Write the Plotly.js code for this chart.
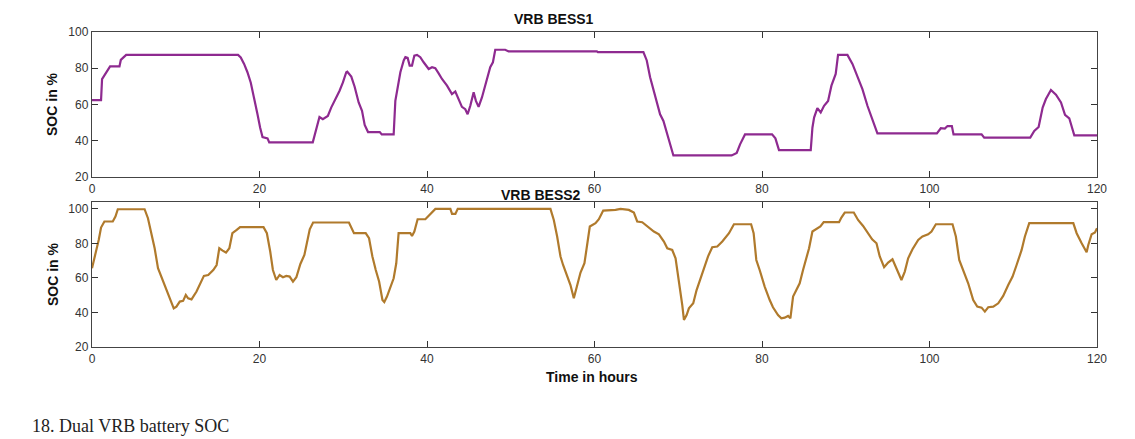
<!DOCTYPE html>
<html>
<head>
<meta charset="utf-8">
<script src="https://cdn.plot.ly/plotly-3.0.1.min.js"></script>
<style>html,body{margin:0;padding:0;background:#fff;}#chart{width:1135px;height:439px;}</style>
</head>
<body>
<div id="chart"></div>
<script>
// Time in hours and SOC (%)
const timeBess1 = [0,1.08,1.2,1.68,2.16,3.28,3.44,3.76,4.08,17.44,17.76,18.16,18.56,18.96,19.36,19.76,20.08,20.36,20.96,21.16,26.36,26.76,27.16,27.56,28.16,28.56,28.96,29.56,29.96,30.36,30.48,30.96,31.36,31.84,32.24,32.56,32.96,34.36,34.6,36.02,36.22,36.5,36.82,37.22,37.42,37.69,37.93,38.21,38.49,38.81,39.2,39.6,40.2,40.6,40.99,41.39,41.79,42.39,42.98,43.38,43.66,44.17,44.57,44.85,45.17,45.57,45.84,46.16,46.56,47.08,47.55,47.87,48.15,49.34,49.74,60.28,60.4,65.84,66.24,66.64,67.04,67.44,67.83,68.23,68.63,69.03,69.42,76.38,76.98,77.38,77.97,81.2,81.6,82.03,85.82,86.02,86.22,86.61,87.01,87.41,87.89,88.29,88.8,89.08,90.2,90.8,91.39,91.99,92.59,93.19,93.78,100.88,101.35,101.83,102.15,102.67,102.87,106.22,106.53,112.03,112.51,113.03,113.51,113.9,114.5,115.1,115.7,116.18,116.69,117.29,120];
const socBess1 = [62.4,62.4,74,77.8,81,81,84.6,86,87.4,87.4,86,82.4,77.8,72,64,54.6,47.2,42,41.3,39.1,39.1,45.4,53.1,51.9,53.7,58.3,62,67.6,72.2,77.8,78.1,75.4,69.8,61.1,56.5,48.7,44.8,44.8,43.5,43.5,62,69.4,77.8,84.3,86.1,85.7,81.5,81.5,87,87.4,86.1,83.3,79.6,80.6,80,77.2,74.1,70.4,65.7,67.2,63.9,58.7,57.4,54.6,59.3,66.7,62,58.7,63.9,72.2,80.6,83.3,90.2,90.2,89.3,89.3,88.9,88.9,84.3,75,67.6,60.2,54.6,50.9,44.4,38,31.9,31.9,33.3,38,43.5,43.5,41.3,34.8,34.8,47.2,52.8,58,55.6,59.3,62,70.4,76.9,87.4,87.4,82.4,75.9,68.5,59.3,51.9,44.1,44.1,46.9,46.7,48.1,48.1,43.5,43.5,41.7,41.7,45.4,47.6,58.3,63,68,65.4,61.1,54.3,52.4,43,43];

const timeBess2 = [0,0.2,0.48,0.8,1.08,1.48,2.48,2.8,3.08,6.28,6.68,7.08,7.48,7.88,8.4,8.88,9.36,9.76,10.08,10.48,10.88,11.2,11.48,11.88,12.48,13.08,13.36,13.88,14.48,14.88,15.2,15.6,16,16.4,16.76,17.28,17.68,20.48,20.88,21.28,21.6,22,22.4,22.8,23.2,23.6,24,24.4,24.88,25.36,25.68,26,26.4,30.68,31.28,32.68,33.08,33.48,33.88,34.28,34.68,34.9,35.22,35.62,36.02,36.33,36.61,38.01,38.21,38.49,38.88,39.8,40.2,40.6,41,42.79,42.99,43.39,43.67,54.74,55.14,55.54,55.94,56.25,56.73,57.13,57.53,57.93,58.33,58.8,59.12,59.44,60.12,60.52,61.04,62.51,63.11,64.1,64.7,65.1,65.7,66.29,66.69,67.09,67.69,68.29,68.69,69.28,69.68,70.08,70.48,70.68,71,71.27,71.79,72.19,72.67,73.15,73.55,74.06,74.66,75.26,76.06,76.65,78.7,79,79.32,79.72,80.32,80.92,81.31,81.91,82.31,82.71,83.11,83.39,83.71,84.1,84.5,84.9,85.3,85.62,86.02,86.49,86.97,87.37,89.2,89.48,89.88,90.96,91.47,92.07,92.67,93.15,93.67,94.06,94.58,95.06,95.58,96.06,96.65,97.05,97.45,97.97,98.65,99.16,99.84,100.24,100.76,102.75,103.15,103.55,104.02,104.62,105.22,105.7,106.22,106.61,107.01,107.61,108.21,108.8,109.4,109.92,110.4,111,111.39,111.91,117.17,117.57,118.17,118.76,118.96,119.36,119.76,120];
const socBess2 = [65.6,69.5,74.3,82,89.2,92.7,92.7,95.6,99.8,99.8,94.6,85.9,77.2,65.6,59.2,53,47.2,42.4,43.4,46.3,46.7,50.1,48.2,47.6,52.1,58.5,61.2,61.7,64.6,67.5,77.2,75.8,74.7,77.2,85.9,87.8,89.4,89.4,85.9,75.3,64.6,58.8,61.7,60.4,61.2,60.8,57.9,60.4,68.1,73.3,80.1,88.2,92.1,92.1,85.9,85.9,83,72.4,64.6,57.9,47.2,46,49.2,55,59.8,68.5,85.9,85.9,84.3,86.9,94,94,95.9,97.5,100,100,97.1,97.1,100,100,93.6,84,72.4,67.5,61.7,55.9,48.2,55.9,63.1,68.5,80.1,89.8,91.7,94,99,99.4,100,99.4,97.9,92.7,92.3,90.1,88.8,86.9,85.3,81.1,77.2,76.2,71.4,58.8,44.3,35.7,38.5,42.4,45.3,53,59.8,66.6,72.4,77.8,78.2,81.1,85.9,91.1,91.1,85.9,70.4,64.6,55,47.2,43,38.5,36.6,37,38,36.6,49.2,53,56.9,64.6,71.4,77.2,86.9,88.2,89.8,92.3,92.3,95,97.9,97.9,93.6,90.1,85.9,82.4,80.1,72.4,66.2,68.9,70.8,65.6,58.8,63.7,71.4,76.6,82,84,85.3,86.9,91.1,91.1,84,70.4,64.6,56.9,47.2,43.4,42.8,40.5,43,43.4,45.3,49.6,55.9,60.8,67.5,76.2,84,91.7,91.7,85.9,80.1,74.9,79.1,85.3,86.3,88.8];

const xTicks = [0,20,40,60,80,100,120];
const yTicks = [20,40,60,80,100];
const titles = ["VRB BESS1","VRB BESS2"];
const yTitle = "SOC in %";
const xTitle = "Time in hours";
const caption = "18. Dual VRB battery SOC";

const tickFont = {family:"Liberation Sans, Arial, sans-serif", size:12, color:"#333"};
const boldFont = {family:"Liberation Sans, Arial, sans-serif", size:14, color:"#111", weight:"bold"};

function xa(anchor){
  return {domain:[0,1], range:[0,120], anchor:anchor, tickvals:xTicks, ticks:"inside", ticklen:6,
    tickcolor:"#333", mirror:"ticks", showline:true, linecolor:"#444", linewidth:1.2,
    showgrid:false, zeroline:false, tickfont:tickFont};
}
function ya(anchor, dom, rng){
  return {domain:dom, range:rng, anchor:anchor, tickvals:yTicks, ticks:"inside", ticklen:6,
    tickcolor:"#333", mirror:"ticks", showline:true, linecolor:"#444", linewidth:1.2,
    showgrid:false, zeroline:false, tickfont:tickFont};
}

const traces = [
  {x:timeBess1, y:socBess1, xaxis:"x", yaxis:"y", mode:"lines", line:{color:"#8E2A90", width:2.2}, hoverinfo:"skip"},
  {x:timeBess2, y:socBess2, xaxis:"x2", yaxis:"y2", mode:"lines", line:{color:"#B07A2C", width:2.2}, hoverinfo:"skip"}
];

const layout = {
  width:1135, height:439,
  margin:{l:92, r:38, t:0, b:0},
  paper_bgcolor:"#fff", plot_bgcolor:"#fff",
  showlegend:false,
  xaxis: xa("y"),
  yaxis: ya("x", [0.5968, 0.9271], [20,100]),
  xaxis2: xa("y2"),
  yaxis2: ya("x2", [0.2096, 0.5399], [20,104]),
  annotations:[
    {text:titles[0], xref:"paper", yref:"paper", x:0.46, y:0.9567, xanchor:"center", yanchor:"middle", showarrow:false, font:boldFont},
    {text:titles[1], xref:"paper", yref:"paper", x:0.447, y:0.5558, xanchor:"center", yanchor:"middle", showarrow:false, font:boldFont},
    {text:yTitle, xref:"paper", yref:"paper", x:-0.0393, y:0.7620, textangle:-90, xanchor:"center", yanchor:"middle", showarrow:false, font:boldFont},
    {text:yTitle, xref:"paper", yref:"paper", x:-0.0393, y:0.3747, textangle:-90, xanchor:"center", yanchor:"middle", showarrow:false, font:boldFont},
    {text:xTitle, xref:"paper", yref:"paper", x:0.498, y:0.1412, xanchor:"center", yanchor:"middle", showarrow:false, font:boldFont},
    {text:caption, xref:"paper", yref:"paper", x:-0.0617, y:0, yshift:1, xanchor:"left", yanchor:"bottom", showarrow:false,
     font:{family:"Liberation Serif, Times New Roman, serif", size:18, color:"#222"}}
  ]
};

Plotly.newPlot("chart", traces, layout, {staticPlot:true, displayModeBar:false});
</script>
</body>
</html>
